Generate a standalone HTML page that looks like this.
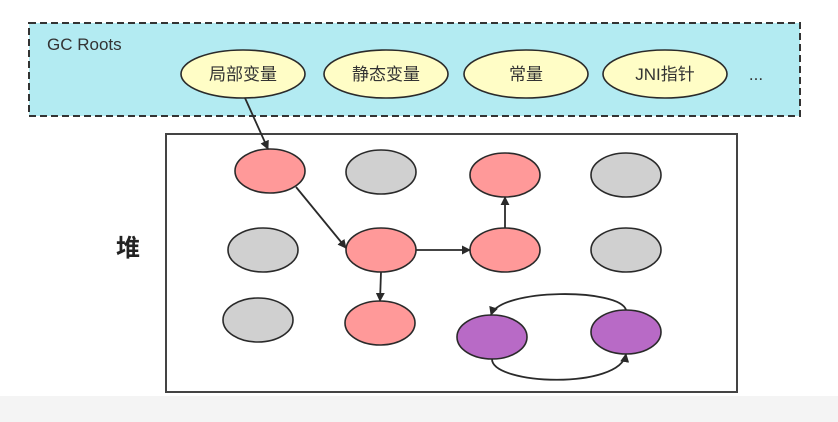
<!DOCTYPE html>
<html><head><meta charset="utf-8"><style>
html,body{margin:0;padding:0;background:#fff;}
svg{display:block;}
text{font-family:"Liberation Sans","Noto Sans CJK SC",sans-serif;}
</style></head><body>
<svg width="838" height="422" viewBox="0 0 838 422" xmlns="http://www.w3.org/2000/svg">
<defs>
<marker id="a" viewBox="0 0 10 10" refX="9" refY="5" markerWidth="9" markerHeight="9" orient="auto" markerUnits="userSpaceOnUse">
<path d="M0,0 L10,5 L0,10 z" fill="#2a2a2a"/></marker>
</defs>
<rect x="0" y="396" width="838" height="26" fill="#f4f4f4"/>
<rect x="29" y="23" width="771" height="93" fill="#b3ebf2" stroke="#333" stroke-width="2" stroke-dasharray="7,4"/>
<text x="47" y="50" font-size="17" fill="#333">GC Roots</text>
<g stroke="#2a2a2a" stroke-width="1.6" fill="#fffdc6">
<ellipse cx="243" cy="74" rx="62" ry="24"/>
<ellipse cx="386" cy="74" rx="62" ry="24"/>
<ellipse cx="526" cy="74" rx="62" ry="24"/>
<ellipse cx="665" cy="74" rx="62" ry="24"/>
</g>
<g font-size="17" fill="#333" text-anchor="middle">
<text x="243" y="80">局部变量</text>
<text x="386" y="80">静态变量</text>
<text x="526" y="80">常量</text>
<text x="665" y="80">JNI指针</text>
<text x="756" y="80">...</text>
</g>
<rect x="166" y="134" width="571" height="258" fill="#fff" stroke="#444" stroke-width="2"/>
<text x="128" y="256" font-size="24" font-weight="bold" fill="#222" text-anchor="middle">堆</text>
<g stroke="#2a2a2a" stroke-width="1.6">
<ellipse cx="270" cy="171" rx="35" ry="22" fill="#ff9999"/>
<ellipse cx="381" cy="172" rx="35" ry="22" fill="#d0d0d0"/>
<ellipse cx="505" cy="175" rx="35" ry="22" fill="#ff9999"/>
<ellipse cx="626" cy="175" rx="35" ry="22" fill="#d0d0d0"/>
<ellipse cx="263" cy="250" rx="35" ry="22" fill="#d0d0d0"/>
<ellipse cx="381" cy="250" rx="35" ry="22" fill="#ff9999"/>
<ellipse cx="505" cy="250" rx="35" ry="22" fill="#ff9999"/>
<ellipse cx="626" cy="250" rx="35" ry="22" fill="#d0d0d0"/>
<ellipse cx="258" cy="320" rx="35" ry="22" fill="#d0d0d0"/>
<ellipse cx="380" cy="323" rx="35" ry="22" fill="#ff9999"/>
<ellipse cx="492" cy="337" rx="35" ry="22" fill="#b86ac6"/>
<ellipse cx="626" cy="332" rx="35" ry="22" fill="#b86ac6"/>
</g>
<g stroke="#2a2a2a" stroke-width="1.8" fill="none" marker-end="url(#a)">
<line x1="245" y1="98" x2="268" y2="149"/>
<line x1="296" y1="187" x2="346" y2="248"/>
<line x1="416" y1="250" x2="470" y2="250"/>
<line x1="505" y1="228" x2="505" y2="197"/>
<line x1="381" y1="272" x2="380" y2="301"/>
<path d="M626,310 C620,288 500,288 491,315"/>
<path d="M492,359 C492,385 620,390 626,354"/>
</g>
</svg>
</body></html>
